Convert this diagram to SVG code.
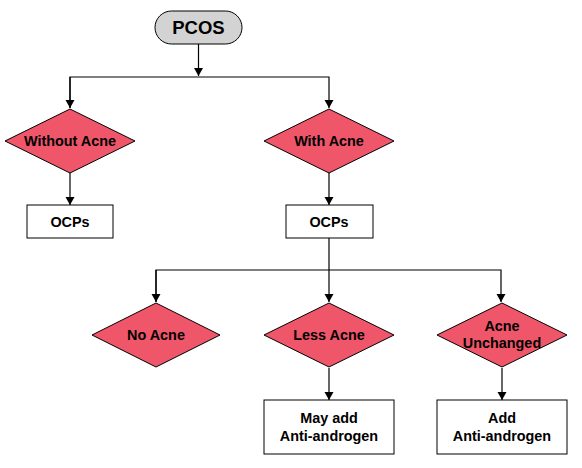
<svg xmlns="http://www.w3.org/2000/svg" width="582" height="468" viewBox="0 0 582 468">
<defs>
<style>
.d{fill:#F0566A;stroke:#000;stroke-width:1}
.b{fill:#fff;stroke:#000;stroke-width:1}
.t{font-family:"Liberation Sans",Arial,sans-serif;font-weight:bold;font-size:14.4px;fill:#000;text-anchor:middle}
.c{fill:none;stroke:#000;stroke-width:1.2}
</style>
<marker id="ah" markerWidth="10" markerHeight="10" refX="9" refY="5" orient="auto" markerUnits="userSpaceOnUse">
<path d="M1,0.5 L9,5 L1,9.5 Z" fill="#000"/>
</marker>
</defs>
<rect width="582" height="468" fill="#fff"/>
<g id="connectors">
<path class="c" d="M198.5,44 V76" marker-end="url(#ah)"/>
<path class="c" d="M70,108 V77 H329 V108" marker-end="url(#ah)"/>
<path class="c" d="M70,77 V108" marker-end="url(#ah)"/>
<path class="c" d="M70,173 V205" marker-end="url(#ah)"/>
<path class="c" d="M329,173 V205" marker-end="url(#ah)"/>
<path class="c" d="M329,238 V302" marker-end="url(#ah)"/>
<path class="c" d="M156,302 V270 H501 V302" marker-end="url(#ah)"/>
<path class="c" d="M156,270 V302" marker-end="url(#ah)"/>
<path class="c" d="M329,368 V400" marker-end="url(#ah)"/>
<path class="c" d="M502,368 V400" marker-end="url(#ah)"/>
</g>
<g id="pcos">
<rect x="155" y="11" width="87" height="33" rx="16.5" fill="#D3D3D3" stroke="#000"/>
<text class="t" x="198.5" y="34" style="font-size:18.5px">PCOS</text>
</g>
<g id="without-acne">
<polygon class="d" points="5,141 70,109 135,141 70,173"/>
<text class="t" x="70" y="146">Without Acne</text>
</g>
<g id="with-acne">
<polygon class="d" points="264,141 329,109 394,141 329,173"/>
<text class="t" x="329" y="146">With Acne</text>
</g>
<g id="ocps-left">
<rect class="b" x="27" y="205" width="86" height="33"/>
<text class="t" x="70" y="226.5">OCPs</text>
</g>
<g id="ocps-right">
<rect class="b" x="286" y="205" width="87" height="33"/>
<text class="t" x="329" y="226.5">OCPs</text>
</g>
<g id="no-acne">
<polygon class="d" points="92,335 156,303 220,335 156,367"/>
<text class="t" x="156" y="340">No Acne</text>
</g>
<g id="less-acne">
<polygon class="d" points="264,335 329,303 394,335 329,367"/>
<text class="t" x="329" y="340">Less Acne</text>
</g>
<g id="acne-unchanged">
<polygon class="d" points="437,335 502,303 567,335 502,367"/>
<text class="t" x="502" y="330.5">Acne</text>
<text class="t" x="502" y="347.5">Unchanged</text>
</g>
<g id="may-add">
<rect class="b" x="264" y="400" width="130" height="54"/>
<text class="t" x="329" y="423">May add</text>
<text class="t" x="329" y="441">Anti-androgen</text>
</g>
<g id="add">
<rect class="b" x="437" y="400" width="130" height="54"/>
<text class="t" x="502" y="423">Add</text>
<text class="t" x="502" y="441">Anti-androgen</text>
</g>
</svg>
